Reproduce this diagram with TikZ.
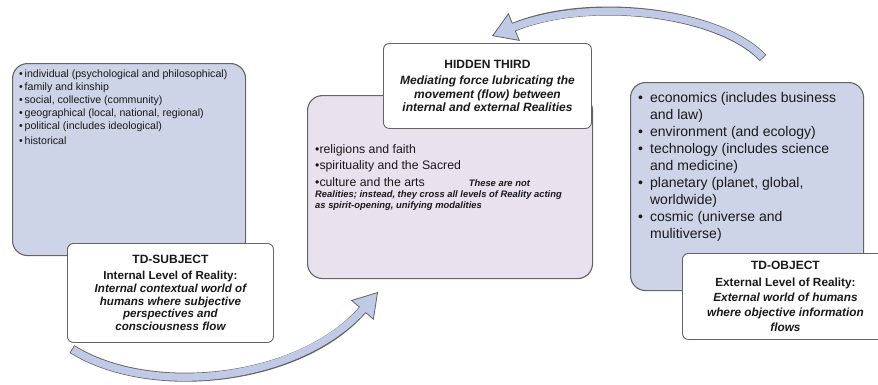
\documentclass[tikz,border=0pt]{standalone}
\usepackage{fontspec}
\setmainfont{Liberation Sans}
\usetikzlibrary{arrows.meta,positioning}
\definecolor{azulc}{RGB}{206,212,231}
\definecolor{lila}{RGB}{231,226,238}
\definecolor{borde}{RGB}{100,100,100}
\definecolor{flecha}{RGB}{192,201,229}
\definecolor{tinta}{RGB}{25,25,25}
\tikzset{
  marco/.style={draw=borde, line width=1.1pt, rounded corners=15pt, inner sep=0pt, anchor=north west},
  tarj/.style={draw=borde, line width=0.9pt, rounded corners=6pt, fill=white, align=center, inner sep=2pt, anchor=north west, text=tinta},
  lista/.style={align=left, inner sep=0pt, text=tinta},
  curva/.style={line width=9pt, draw=borde, -{Triangle[length=24pt, width=30pt, line width=0.8pt, fill=flecha]}},
  curvain/.style={line width=7.4pt, draw=flecha, shorten <=0.8pt, shorten >=20pt},
}

\begin{document}
\begin{tikzpicture}[x=1pt,y=-1pt]
  \useasboundingbox (0,0) rectangle (878,384);
  % the three big panels
  \node[marco, fill=azulc, minimum width=233pt, minimum height=192pt] (sujeto) at (12,63) {};
  \node[marco, fill=lila, minimum width=285pt, minimum height=183pt] (medio) at (307,95) {};
  \node[marco, fill=azulc, minimum width=233pt, minimum height=208pt] (objeto) at (630,82) {};
  % lists
  \node[lista, font=\fontsize{10.6}{12.9}\selectfont, below right=7pt and 7pt of sujeto.north west] (lsuj) {%
    •\,individual (psychological and philosophical)\\ •\,family and kinship\\ •\,social, collective (community)\\
    •\,geographical (local, national, regional)\\ •\,political (includes ideological)\\[2pt] •\,historical};
  \node[lista, font=\fontsize{12.3}{16.5}\selectfont, below right=49pt and 8pt of medio.north west] (lmed) {%
    •religions and faith\\ •spirituality and the Sacred\\
    •culture and the arts\hspace{44pt}{\fontsize{9.4}{11}\selectfont\bfseries\itshape These are not}};
  \node[lista, font=\fontsize{9.4}{11}\selectfont\bfseries\itshape, below=4pt of lmed.south west, anchor=north west] (nota) {%
    Realities; instead, they cross all levels of Reality acting\\ as spirit-opening, unifying modalities};
  \node[lista, font=\fontsize{14}{17}\selectfont, below right=8pt and 8pt of objeto.north west] (lobj) {%
    \begin{tabular}{@{}l@{\hspace{7pt}}l@{}}
      •&economics (includes business\\ &and law)\\ •&environment (and ecology)\\
      •&technology (includes science\\ &and medicine)\\ •&planetary (planet, global,\\ &worldwide)\\
      •&cosmic (universe and\\ &mulitiverse)
    \end{tabular}};
  % white labels
  \node[tarj, minimum width=206pt, minimum height=99pt, font=\fontsize{11.6}{12.9}\selectfont\bfseries] (tds) at (67,243) {%
    {\fontsize{12}{14}\selectfont TD-SUBJECT}\\[3pt] Internal Level of Reality:\\
    \itshape Internal contextual world of\\ \itshape humans where subjective\\ \itshape perspectives and\\ \itshape consciousness flow};
  \node[tarj, minimum width=208pt, minimum height=85pt, font=\fontsize{12}{13.4}\selectfont\bfseries] (tercero) at (383,43) {%
    {\fontsize{12}{14}\selectfont HIDDEN THIRD}\\[3pt] \itshape Mediating force lubricating the\\
    \itshape movement (flow) between\\ \itshape internal and external Realities};
  \node[tarj, minimum width=206pt, minimum height=86pt, font=\fontsize{11.8}{14.8}\selectfont\bfseries] (tdo) at (682,253) {%
    {\fontsize{12}{14}\selectfont TD-OBJECT}\\[2pt] External Level of Reality:\\
    \itshape External world of humans\\ \itshape where objective information\\ \itshape flows};
  % curved arrows
  \coordinate (colaA) at (763,58);
  \coordinate (puntaA) at (492,36);
  \coordinate (colaB) at (72,349);
  \coordinate (puntaB) at (378,292);
  \draw[curva] (colaA) .. controls (720,12) and (590,-4) .. (puntaA);
  \draw[curvain] (colaA) .. controls (720,12) and (590,-4) .. (puntaA);
  \draw[curva] (colaB) .. controls (150,398) and (300,382) .. (puntaB);
  \draw[curvain] (colaB) .. controls (150,398) and (300,382) .. (puntaB);
\end{tikzpicture}
\end{document}
